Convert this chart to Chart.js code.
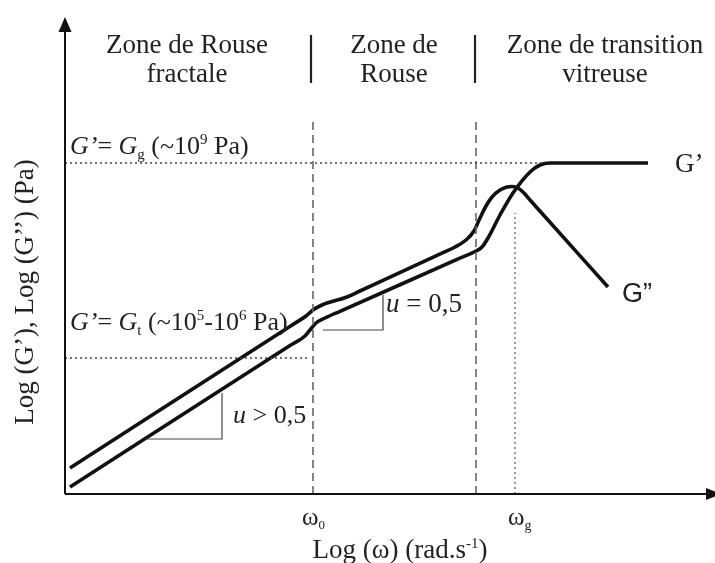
<!DOCTYPE html>
<html>
<head>
<meta charset="utf-8">
<script src="https://cdn.jsdelivr.net/npm/chart.js@4.4.1/dist/chart.umd.min.js"></script>
<style>
html, body { margin:0; padding:0; background:#fff; }
</style>
</head>
<body>
<canvas id="container" width="715" height="563"></canvas>
<script>
// log(omega) / log(G) in arbitrary units (schematic)
var gPrimeX  = [5, 225, 240, 245, 251, 260, 275, 396, 411, 417, 423, 435, 448, 465, 475, 485, 583];
var gPrimeY  = [7, 148.4, 158, 164, 171, 176, 182.7, 236.3, 243, 247, 256, 279, 301, 322, 329, 331, 331];
var gSecondX = [5, 226, 241, 248, 257, 282, 295, 378, 390, 401, 409, 415, 421, 427, 435, 442, 447, 453, 459, 465, 476, 543];
var gSecondY = [26, 168.3, 178, 184, 189, 197, 203, 241.4, 247, 254, 263, 276, 288, 297, 304, 307, 307.5, 306, 301, 294, 281.7, 207];

// reference levels and frequencies
var levelGg = 331, levelGt = 136;
var omega0 = 248, omegaR = 411, omegaG = 450;
var gGlassEndX = 477, gRubberEndX = 245;
var omega0Top = 372, omegaRTop = 376, omegaGTop = 281;
var zoneSepX = [246, 410];
var zoneSepY = [411, 459];

// slope triangles
var slopeLowX = [81, 157, 157];
var slopeLowY = [55, 55, 101];
var slopeHighX = [258, 318, 318];
var slopeHighY = [164, 164, 199];

function pts(xs, ys) {
  return xs.map(function(x, i) { return {x: x, y: ys[i]}; });
}

var serif = '"Liberation Serif", "Times New Roman", serif';
var sans = '"Liberation Sans", Arial, sans-serif';

function richText(ctx, parts, x, y, align) {
  var w = 0;
  parts.forEach(function(p) { ctx.font = p[1]; w += ctx.measureText(p[0]).width; });
  var cx = (align == 'center') ? x - w / 2 : x;
  ctx.textAlign = 'left';
  parts.forEach(function(p) {
    ctx.font = p[1];
    ctx.fillText(p[0], cx, y + (p[2] || 0));
    cx += ctx.measureText(p[0]).width;
  });
}

var decorPlugin = {
  id: 'decor',
  afterDraw: function(chart) {
    var ctx = chart.ctx;
    var xs = chart.scales.x, ys = chart.scales.y;
    var x0 = xs.getPixelForValue(0), y0 = ys.getPixelForValue(0);
    ctx.save();
    // axes with arrows
    ctx.strokeStyle = '#111';
    ctx.fillStyle = '#111';
    ctx.lineWidth = 2;
    ctx.beginPath();
    ctx.moveTo(x0, y0); ctx.lineTo(x0, 30);
    ctx.moveTo(x0, y0); ctx.lineTo(708, y0);
    ctx.stroke();
    ctx.beginPath();
    ctx.moveTo(x0, 17); ctx.lineTo(x0 - 6.5, 32); ctx.lineTo(x0 + 6.5, 32); ctx.closePath();
    ctx.fill();
    ctx.beginPath();
    ctx.moveTo(721, y0); ctx.lineTo(706, y0 - 6); ctx.lineTo(706, y0 + 6); ctx.closePath();
    ctx.fill();

    ctx.fillStyle = '#222';
    ctx.textBaseline = 'alphabetic';
    var f27 = '27px ' + serif, f26 = '26px ' + serif;
    var i26 = 'italic 26px ' + serif, i27 = 'italic 27px ' + serif;
    var s15 = '15px ' + serif;

    // zone titles
    ctx.textAlign = 'center';
    ctx.font = f27;
    ctx.fillText('Zone de Rouse', 187, 53);
    ctx.fillText('fractale', 187, 82);
    ctx.fillText('Zone de', 394, 53);
    ctx.fillText('Rouse', 394, 82);
    ctx.fillText('Zone de transition', 605, 53);
    ctx.fillText('vitreuse', 605, 82);

    // level labels
    richText(ctx, [['G\u2019', i26], ['= ', f26], ['G', i26], ['g', s15, 5], [' (~10', f26], ['9', s15, -10], [' Pa)', f26]], 70, 154);
    richText(ctx, [['G\u2019', i26], ['= ', f26], ['G', i26], ['t', s15, 5], [' (~10', f26], ['5', s15, -10], ['-10', f26], ['6', s15, -10], [' Pa)', f26]], 70, 330);

    // slopes
    richText(ctx, [['u', i27], [' = 0,5', f27]], 386, 312);
    richText(ctx, [['u', i26], [' > 0,5', f26]], 233, 423);

    // frequencies
    richText(ctx, [['\u03c9', '25px ' + serif], ['0', '13px ' + serif, 4]], 302, 525);
    richText(ctx, [['\u03c9', '25px ' + serif], ['g', '14px ' + serif, 5]], 508, 525);

    // axis titles
    richText(ctx, [['Log (\u03c9) (rad.s', f27], ['-1', s15, -10], [')', f27]], 400, 558, 'center');
    ctx.save();
    ctx.translate(26, 292);
    ctx.rotate(-Math.PI / 2);
    ctx.textAlign = 'center';
    ctx.textBaseline = 'middle';
    ctx.font = f27;
    ctx.fillText('Log (G\u2019), Log (G\u2019\u2019) (Pa)', 0, 0);
    ctx.restore();

    // curve names
    ctx.textAlign = 'left';
    ctx.font = f27;
    ctx.fillText('G\u2019', 675, 172);
    ctx.font = '27px ' + sans;
    ctx.fillText('G\u201d', 622, 302);
    ctx.restore();
  }
};

var thin = function(data, color, width, dash) {
  return {
    data: data, showLine: true, fill: false, pointRadius: 0,
    borderColor: color, borderWidth: width, borderDash: dash || [], tension: 0
  };
};

var datasets = [
  thin(pts([0, gGlassEndX], [levelGg, levelGg]), '#444', 1.3, [2, 3]),
  thin(pts([0, gRubberEndX], [levelGt, levelGt]), '#444', 1.3, [2, 3]),
  thin(pts([omega0, omega0], [0, omega0Top]), '#666', 1.6, [8, 5]),
  thin(pts([omegaR, omegaR], [0, omegaRTop]), '#666', 1.6, [8, 5]),
  thin(pts([omegaG, omegaG], [0, omegaGTop]), '#666', 1.3, [2, 3]),
  thin(pts([zoneSepX[0], zoneSepX[0]], zoneSepY), '#222', 2.2),
  thin(pts([zoneSepX[1], zoneSepX[1]], zoneSepY), '#222', 2.2),
  thin(pts(slopeLowX, slopeLowY), '#444', 1.2),
  thin(pts(slopeHighX, slopeHighY), '#444', 1.2),
  {
    label: "G'", data: pts(gPrimeX, gPrimeY), showLine: true, fill: false, pointRadius: 0,
    borderColor: '#111', borderWidth: 3.6, cubicInterpolationMode: 'monotone'
  },
  {
    label: "G''", data: pts(gSecondX, gSecondY), showLine: true, fill: false, pointRadius: 0,
    borderColor: '#111', borderWidth: 3.6, cubicInterpolationMode: 'monotone'
  }
];

var ctx = document.getElementById('container');
new Chart(ctx, {
  type: 'scatter',
  data: { datasets: datasets },
  options: {
    responsive: false,
    animation: false,
    devicePixelRatio: 1,
    layout: { padding: { left: 65, right: 0, top: 15, bottom: 69 } },
    plugins: { legend: { display: false }, tooltip: { enabled: false } },
    scales: {
      x: { type: 'linear', min: 0, max: 650, display: false },
      y: { type: 'linear', min: 0, max: 479, display: false }
    }
  },
  plugins: [decorPlugin]
});
</script>
</body>
</html>
